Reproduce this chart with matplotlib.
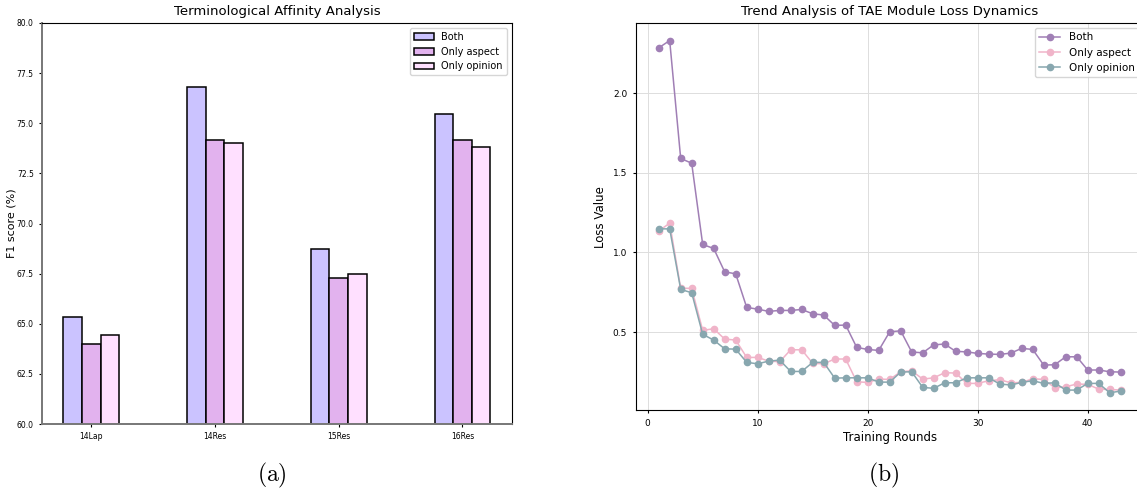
import numpy as np
import matplotlib
matplotlib.use('Agg')
import matplotlib.pyplot as plt

plt.rcParams['mathtext.fontset'] = 'cm'

# bar chart data
datasets = ['14Lap', '14Res', '15Res', '16Res']
f1_both = [65.32, 76.79, 68.74, 75.48]
f1_aspect = [63.97, 74.17, 67.26, 74.17]
f1_opinion = [64.45, 74.00, 67.49, 73.79]

# loss curves
rounds = list(range(1, 44))
loss_both = [2.284, 2.330, 1.590, 1.560, 1.050, 1.025, 0.878, 0.866, 0.655, 0.644,
             0.630, 0.636, 0.636, 0.642, 0.615, 0.607, 0.542, 0.544, 0.404, 0.391,
             0.385, 0.502, 0.508, 0.375, 0.370, 0.420, 0.425, 0.379, 0.376, 0.366,
             0.362, 0.360, 0.368, 0.398, 0.391, 0.293, 0.295, 0.345, 0.345, 0.262,
             0.262, 0.251, 0.249]
loss_aspect = [1.134, 1.184, 0.776, 0.774, 0.511, 0.521, 0.456, 0.450, 0.341, 0.341,
               0.318, 0.314, 0.389, 0.389, 0.304, 0.301, 0.331, 0.331, 0.188, 0.184,
               0.205, 0.203, 0.251, 0.257, 0.205, 0.213, 0.245, 0.243, 0.178, 0.178,
               0.195, 0.201, 0.182, 0.184, 0.207, 0.203, 0.151, 0.157, 0.174, 0.172,
               0.142, 0.140, 0.136]
loss_opinion = [1.148, 1.148, 0.768, 0.747, 0.486, 0.450, 0.395, 0.393, 0.310, 0.301,
                0.318, 0.324, 0.253, 0.253, 0.310, 0.310, 0.211, 0.213, 0.213, 0.213,
                0.186, 0.186, 0.249, 0.251, 0.153, 0.147, 0.182, 0.182, 0.213, 0.213,
                0.213, 0.174, 0.168, 0.184, 0.195, 0.178, 0.182, 0.136, 0.136, 0.178,
                0.178, 0.119, 0.130]

fig = plt.figure(figsize=(11.37, 4.88), dpi=100)

# (a) bars
ax1 = fig.add_axes([0.037, 0.131, 0.413, 0.822])
x = np.arange(len(datasets))
w = 0.15
bar_cols = ['#CBC3FF', '#E2B2EE', '#FFE0FF']
for i, (vals, lab) in enumerate(zip([f1_both, f1_aspect, f1_opinion],
                                    ['Both', 'Only aspect', 'Only opinion'])):
    ax1.bar(x + (i - 1) * w, vals, w, color=bar_cols[i], edgecolor='black',
            linewidth=1.1, label=lab)
ax1.set_ylim(60, 80)
ax1.set_xticks(x)
ax1.set_xticklabels(datasets)
ax1.tick_params(labelsize=5.5, length=2.5)
ax1.set_ylabel('F1 score (%)', fontsize=8)
ax1.yaxis.set_label_coords(-0.055, 0.5)
ax1.set_title('Terminological Affinity Analysis', fontsize=9.5)
ax1.legend(loc='upper right', fontsize=7)
for s in ['left', 'bottom']:
    ax1.spines[s].set_color('#777777')
    ax1.spines[s].set_linewidth(1.4)

# (b) lines
ax2 = fig.add_axes([0.559, 0.159, 0.447, 0.794])
line_cols = ['#A07FB5', '#F0B4C9', '#88A7AF']
for vals, lab, c in zip([loss_both, loss_aspect, loss_opinion],
                        ['Both', 'Only aspect', 'Only opinion'], line_cols):
    ax2.plot(rounds, vals, marker='o', markersize=4.5, linewidth=1.1,
             color=c, label=lab)
ax2.set_yticks([0.5, 1.0, 1.5, 2.0])
ax2.set_xticks([0, 10, 20, 30, 40])
ax2.grid(True, color='#dddddd', linewidth=0.7)
ax2.set_axisbelow(True)
ax2.tick_params(labelsize=6.5, length=2.5)
ax2.set_xlabel('Training Rounds', fontsize=8.5, labelpad=2)
ax2.set_ylabel('Loss Value', fontsize=8.5)
ax2.set_title('Trend Analysis of TAE Module Loss Dynamics', fontsize=9.5)
ax2.legend(loc='upper right', fontsize=7.5)

fig.text(0.239, 0.014, r'$\mathrm{(a)}$', ha='center', fontsize=17)
fig.text(0.777, 0.014, r'$\mathrm{(b)}$', ha='center', fontsize=17)

fig.savefig('out.png', dpi=100)
